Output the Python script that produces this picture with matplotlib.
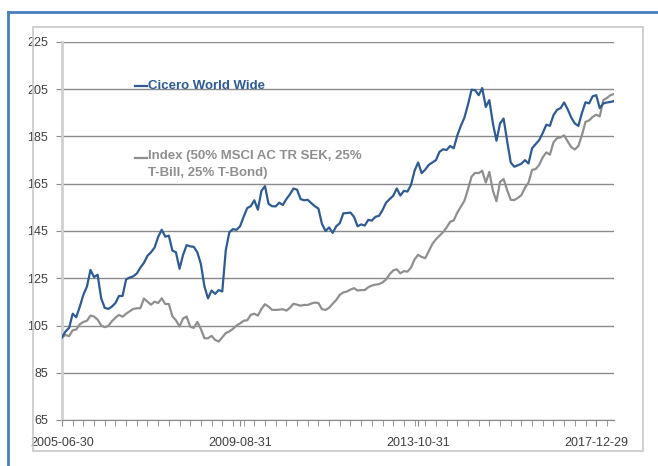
import matplotlib
matplotlib.use("Agg")
import matplotlib.pyplot as plt
from matplotlib.lines import Line2D
from matplotlib.patches import Rectangle
import numpy as np
import pandas as pd

# månadsdata, sista bankdag i månaden
dates = pd.date_range("2005-06-30", periods=156, freq="BME")
labels = [d.strftime("%Y-%m-%d") for d in dates]

cicero = [
    100, 102.5, 104, 110, 108.5, 113, 118, 121.5, 128.5, 125.5,
    126.5, 116.5, 112.5, 112, 113, 114.5, 117.5, 117.5, 124.5, 125.3,
    125.8, 127, 129.5, 131.5, 134.5, 136, 138, 142.5, 145.5, 142.6,
    143, 136.7, 136, 129, 134.9, 139, 138.5, 138.3, 136, 131,
    121.5, 116.5, 119.8, 118.4, 120, 119.4, 137, 144.5, 145.8, 145.5,
    147, 151, 154.7, 155.5, 158, 154, 162, 164, 156.5, 155.5,
    155.4, 157, 156, 158.5, 160.5, 163, 162.5, 158.5, 158, 158.2,
    156.8, 155.5, 154.5, 148, 145, 146.5, 144.2, 147, 148.3, 152.5,
    152.6, 152.8, 151, 147, 147.8, 147.3, 149.7, 149.4, 151, 151.4,
    153.8, 157, 158.5, 159.9, 163, 160, 162, 161.7, 164.5, 170.5,
    174, 169.5, 171, 173, 174, 175, 178.5, 179.6, 179.3, 181,
    180, 185.5, 189.5, 193, 198.5, 204.8, 204.6, 202.5, 205.5, 197.5,
    200.4, 190.5, 183.2, 190.5, 192.6, 183, 174, 172.2, 172.8, 173.5,
    175, 173.6, 180, 181.8, 183.5, 186.5, 190, 189.5, 194, 196.3,
    197, 199.4, 196.5, 193, 190.5, 189.5, 195, 199.5, 199, 202,
    202.5, 197, 199, 199.4, 199.6, 200,
]

index = [
    100, 101, 100.5, 103, 103.3, 105.5, 106.5, 107, 109.2, 108.8,
    107.5, 105, 104.3, 104.8, 106.8, 108.3, 109.5, 108.7, 110, 111,
    112, 112.3, 112.3, 116.4, 115.1, 113.8, 115.1, 114.5, 116.5, 114.1,
    114.1, 108.9, 107.2, 104.6, 108, 108.8, 104.5, 104, 106.5, 103.5,
    99.6, 99.6, 100.6, 98.9, 98.2, 100, 101.8, 102.5, 103.6, 105,
    105.9, 107, 107.2, 109.5, 110, 109.2, 112, 114, 113, 111.6,
    111.6, 111.7, 111.9, 111.3, 112.5, 114.2, 113.8, 113.4, 113.7, 113.7,
    114.3, 114.7, 114.5, 111.9, 111.6, 112.5, 114.2, 115.8, 118, 119,
    119.4, 120.2, 120.8, 119.8, 120, 120, 121.2, 121.9, 122.3, 122.5,
    123.2, 124.5, 126.7, 128.3, 128.8, 127.1, 128, 127.8, 129.5, 133,
    134.9, 134, 133.5, 136.5, 139.5, 141.5, 143, 144.5, 146.5, 148.9,
    149.5, 152.8, 155.3, 157.8, 162.7, 168, 169.6, 169.5, 170.5, 165.5,
    170, 162, 157.6, 165.8, 167, 162.3, 158.2, 158.1, 159, 160.2,
    163.3, 165.5, 170.9, 171.2, 173, 176.2, 178.3, 177.3, 182.5, 184.3,
    184.6, 185.5, 182.9, 180.5, 179.5, 181, 185.6, 191.2, 191.8, 193.3,
    194.2, 193.5, 200.4, 201.3, 202.5, 203,
]

yticks = [65, 85, 105, 125, 145, 165, 185, 205, 225]

name1 = "Cicero World Wide"
name2 = "Index (50% MSCI AC TR SEK, 25%\nT-Bill, 25% T-Bond)"

blue = "#2e5b91"
grey = "#8f8f8f"
textc = "#404040"
fam = ["Liberation Sans Narrow", "Liberation Sans", "DejaVu Sans"]

W, H = 658, 466
fig = plt.figure(figsize=(W / 100, H / 100), dpi=100)

# ramar runt diagrammet
fig.add_artist(Rectangle((33 / W, 1 - 451 / H), (643 - 33) / W, (451 - 27) / H,
                         transform=fig.transFigure, fill=False,
                         edgecolor="#c8c8c8", linewidth=1.2))
fig.add_artist(Line2D([8 / W, 8 / W], [0, 1 - 12 / H], transform=fig.transFigure,
                      color="#4a7ebb", linewidth=2))
fig.add_artist(Line2D([8 / W, 1], [1 - 12 / H, 1 - 12 / H], transform=fig.transFigure,
                      color="#4a7ebb", linewidth=2))

ax = fig.add_axes([62 / W, 46 / H, (614 - 62) / W, (420 - 42) / H])

x = np.arange(len(dates))
ax.plot(x, index, color=grey, linewidth=1.6, zorder=3)
ax.plot(x, cicero, color=blue, linewidth=1.6, zorder=4)

ax.set_ylim(65, 225)
ax.set_xlim(0, len(dates) - 1)
ax.set_yticks(yticks)
ax.set_yticklabels([str(v) for v in yticks], fontfamily=fam, fontsize=9, color=textc)
ax.yaxis.grid(True, color="#8a8a8a", linewidth=1)
ax.set_axisbelow(True)

ax.set_xticks(x[::50])
ax.set_xticklabels([labels[i] for i in x[::50]], fontfamily=fam, fontsize=9, color=textc)
ax.set_xticks(x[::3], minor=True)
ax.tick_params(axis="x", which="both", direction="out", length=4, color="#8a8a8a", pad=8)
ax.tick_params(axis="y", length=4, color="#8a8a8a", pad=6)

for s in ["top", "right"]:
    ax.spines[s].set_visible(False)
ax.spines["bottom"].set_color("#8a8a8a")
ax.spines["left"].set_color("#d0d0d0")
ax.spines["left"].set_linewidth(2)

# förklaring
tr = ax.transAxes
ax.plot([(135 - 62) / 552, (147 - 62) / 552], [(420 - 86) / 378] * 2, transform=tr,
        color=blue, linewidth=1.6, clip_on=False)
ax.text((148 - 62) / 552, (420 - 86) / 378, name1, transform=tr, color=blue,
        fontfamily=fam, fontsize=9.5, fontweight="bold", va="center", ha="left")
ax.plot([(135 - 62) / 552, (147 - 62) / 552], [(420 - 158) / 378] * 2, transform=tr,
        color=grey, linewidth=1.6, clip_on=False)
ax.text((148 - 62) / 552, (420 - 150) / 378, name2, transform=tr, color=grey,
        fontfamily=fam, fontsize=9.5, fontweight="bold", va="top", ha="left",
        linespacing=1.6)

fig.savefig("out.png", dpi=100)
